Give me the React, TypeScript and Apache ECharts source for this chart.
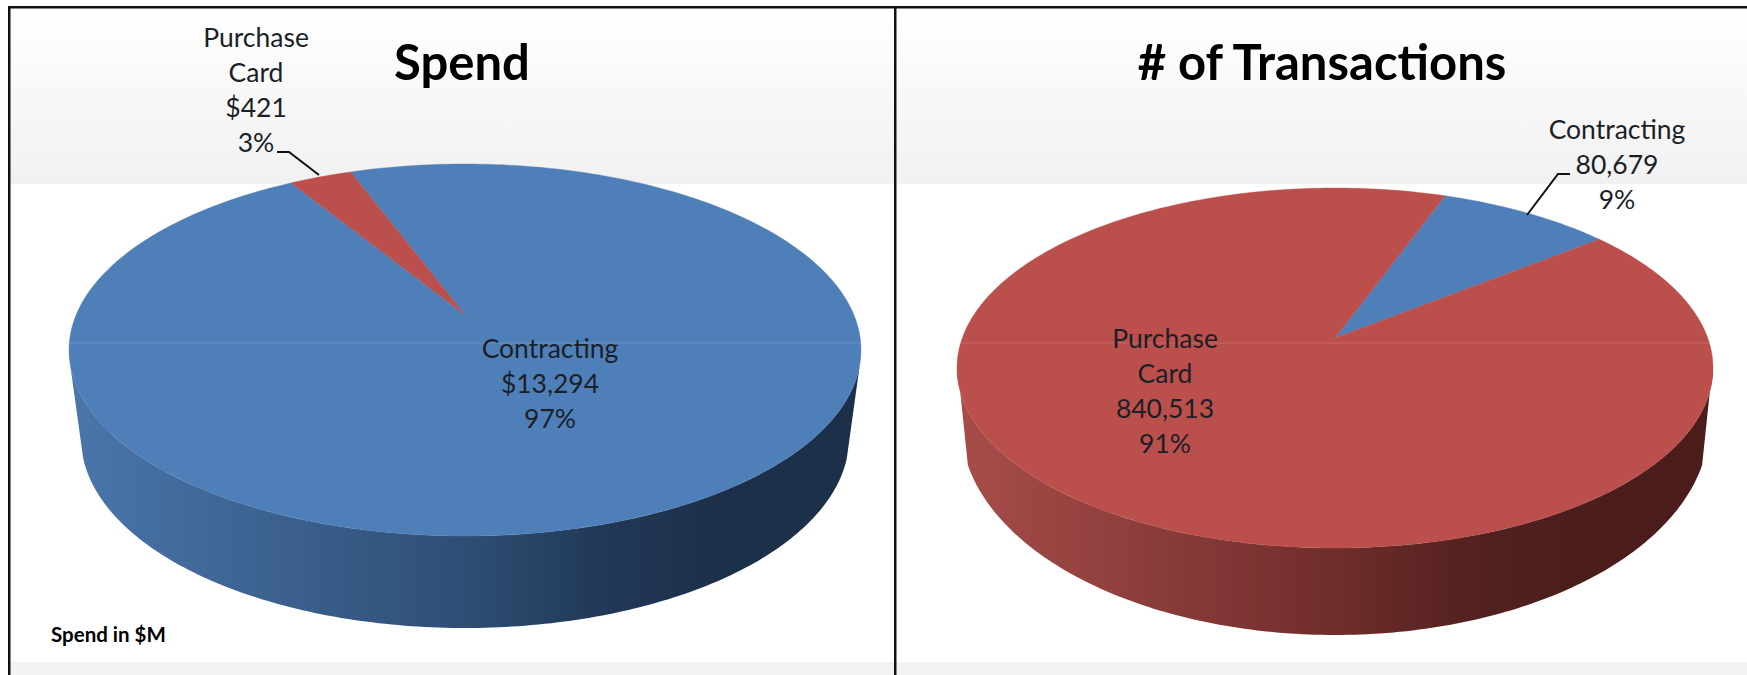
import React, { useEffect, useRef } from "react";
import * as echarts from "echarts";

const categories = ["Contracting", "Purchase Card"];
const spendValues = [13294, 421];
const transactionValues = [80679, 840513];
const spendPercents = [97, 3];
const transactionPercents = [9, 91];
const titles = ["Spend", "# of Transactions"];
const footnote = "Spend in $M";

const FONT = "Lato, Carlito, sans-serif";
const TOP = { Contracting: "#4f7fb9", "Purchase Card": "#bb4f4c" } as Record<string, string>;
const RIM = {
  Contracting: [[0, "#4a76ab"], [0.5, "#2e4e75"], [0.68, "#213856"], [0.82, "#1d304a"], [1, "#1d304a"]],
  "Purchase Card": [[0, "#a74d4a"], [0.5, "#702d2b"], [0.66, "#562321"], [0.8, "#4b1e1c"], [1, "#4a1d1b"]],
} as Record<string, number[][]>;

interface Pie {
  cx: number; cy: number; rx: number; ry: number; b: number; start: number;
  lcx: number; lcy: number; lrx: number; lry: number;
  rimTop: number; rimLow: number;
}
const leftPie: Pie = { cx: 465, cy: 350, rx: 396, ry: 186, b: 0.19, start: -20.3, lcx: 465, lcy: 438, lrx: 384, lry: 190, rimTop: 105, rimLow: 96 };
const rightPie: Pie = { cx: 1335, cy: 368, rx: 378, ry: 180, b: 0.167, start: 20, lcx: 1335, lcy: 425, lrx: 374, lry: 210, rimTop: 98, rimLow: 101 };

function topPoint(p: Pie, deg: number) {
  const t = (deg * Math.PI) / 180;
  const x = Math.sin(t), y = Math.cos(t);
  const d = 1 + p.b * y;
  const X = (x * Math.sqrt(1 - p.b * p.b)) / d;
  const Y = (y + p.b) / d;
  return [p.cx + p.rx * X, p.cy - p.ry * Y];
}
function lowPoint(p: Pie, deg: number) {
  const t = (deg * Math.PI) / 180;
  return [p.lcx + p.lrx * Math.sin(t), p.lcy - p.lry * Math.cos(t)];
}
// Part of the slice [a0, a1] that lies on the visible front of the rim.
function clipFront(a0: number, a1: number, lo: number, hi: number) {
  for (const k of [-360, 0, 360]) {
    const s = Math.max(a0 + k, lo), e = Math.min(a1 + k, hi);
    if (e > s) return [s, e];
  }
  return null;
}
function sweep(fn: (a: number) => number[], s: number, e: number) {
  const pts: number[][] = [];
  const steps = Math.max(4, Math.ceil(e - s));
  for (let i = 0; i <= steps; i++) pts.push(fn(s + ((e - s) * i) / steps));
  return pts;
}

function pieSeries(values: number[], pie: Pie) {
  const total = values.reduce((a, b) => a + b, 0);
  return {
    type: "custom",
    coordinateSystem: "none",
    silent: true,
    z: 2,
    data: values.map((v, i) => ({ value: [v, i] })),
    renderItem: (params: any, api: any) => {
      const i = api.value(1);
      let before = 0;
      for (let k = 0; k < i; k++) before += values[k];
      const a0 = pie.start + (before / total) * 360;
      const a1 = pie.start + ((before + api.value(0)) / total) * 360;
      const cat = categories[i];
      const apex = [pie.cx, pie.cy - pie.ry * pie.b];
      const x0 = pie.cx - pie.rx, x1 = pie.cx + pie.rx;
      const stops = RIM[cat].map(([offset, color]) => ({ offset, color }));
      const children: any[] = [];
      const ft = clipFront(a0, a1, pie.rimTop, 360 - pie.rimTop);
      const fl = clipFront(a0, a1, pie.rimLow, 360 - pie.rimLow);
      if (ft && fl) {
        children.push({
          type: "polygon",
          z2: 1,
          shape: {
            points: [
              ...sweep((a) => topPoint(pie, a), ft[0], ft[1]),
              ...sweep((a) => lowPoint(pie, a), fl[0], fl[1]).reverse(),
            ],
          },
          style: { fill: new echarts.graphic.LinearGradient(x0, 0, x1, 0, stops as any, true) },
        });
      }
      children.push({
        type: "polygon",
        z2: 2,
        shape: { points: [apex, ...sweep((a) => topPoint(pie, a), a0, a1)] },
        style: { fill: TOP[cat], stroke: TOP[cat], lineWidth: 0.4 },
      });
      return { type: "group", children };
    },
  };
}

function labelText(i: number, value: string, pct: number) {
  return `${categories[i].replace(" ", "\n")}\n${value}\n${pct}%`;
}
function fmt(v: number) {
  return v.toLocaleString("en-US");
}

function txt(text: string, x: number, y: number, extra: any = {}) {
  return {
    type: "text",
    x, y, z: 20,
    style: {
      text, fontFamily: FONT, fontSize: 26.5, fill: "#1b1f26",
      textAlign: "center", textVerticalAlign: "middle", lineHeight: 35, ...extra,
    },
  };
}
function rect(x: number, y: number, w: number, h: number, fill: any) {
  return { type: "rect", z: -1, shape: { x, y, width: w, height: h }, style: { fill } };
}
function band() {
  return new echarts.graphic.LinearGradient(0, 0, 0, 1, [
    { offset: 0, color: "#ffffff" },
    { offset: 1, color: "#f1f1f1" },
  ]);
}
function poly(points: number[][]) {
  return {
    type: "polyline", z: 21,
    shape: { points },
    style: { stroke: "#111", lineWidth: 2, fill: "none" },
  };
}

export default function App() {
  const ref = useRef<HTMLDivElement>(null);
  useEffect(() => {
    document.body.style.margin = "0";
    document.body.style.overflow = "hidden";
    const chart = echarts.init(ref.current!, undefined, { renderer: "svg" });
    chart.setOption({
      animation: false,
      backgroundColor: "#ffffff",
      series: [pieSeries(spendValues, leftPie), pieSeries(transactionValues, rightPie)],
      graphic: {
        elements: [
          rect(10, 8, 884, 176, band()),
          rect(897, 8, 850, 176, band()),
          rect(10, 662, 884, 13, "#f3f3f3"),
          rect(897, 662, 850, 13, "#f3f3f3"),
          rect(8, 6, 1739, 2.5, "#111"),
          rect(8, 6, 2.5, 669, "#111"),
          rect(894, 6, 2.5, 669, "#111"),
          {
            type: "line", z: 15,
            shape: { x1: 69, y1: 343, x2: 861, y2: 343 },
            style: { stroke: "rgba(255,255,255,0.09)", lineWidth: 1.5 },
          },
          {
            type: "line", z: 15,
            shape: { x1: 957, y1: 343, x2: 1712, y2: 343 },
            style: { stroke: "rgba(255,255,255,0.09)", lineWidth: 1.5 },
          },
          txt(titles[0], 462, 61, { fontSize: 49, fontWeight: "bold", fill: "#000" }),
          txt(titles[1], 1322, 61, { fontSize: 49, fontWeight: "bold", fill: "#000" }),
          txt(labelText(1, "$" + fmt(spendValues[1]), spendPercents[1]), 256, 89),
          txt(labelText(0, "$" + fmt(spendValues[0]), spendPercents[0]), 550, 383),
          txt(labelText(0, fmt(transactionValues[0]), transactionPercents[0]), 1617, 164),
          txt(labelText(1, fmt(transactionValues[1]), transactionPercents[1]), 1165, 390),
          txt(footnote, 51, 634, { fontSize: 20.5, fontWeight: "bold", textAlign: "left", fill: "#000" }),
          poly([[277, 152], [289, 152], [319, 175]]),
          poly([[1570, 174], [1558, 174], [1527, 215]]),
        ],
      },
    });
    return () => chart.dispose();
  }, []);
  return <div ref={ref} style={{ position: "absolute", left: 0, top: 0, width: 1747, height: 675 }} />;
}
